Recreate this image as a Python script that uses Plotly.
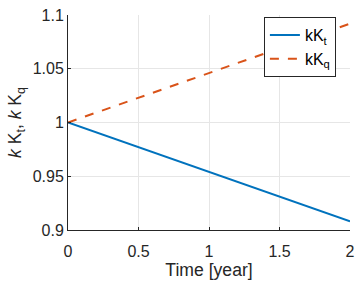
import plotly.graph_objects as go

time_years = [0, 0.5, 1, 1.5, 2]
kKt = [1.0, 0.977, 0.954, 0.931, 0.908]
kKq = [1.0, 1.023, 1.046, 1.069, 1.092]
x_ticks = [0, 0.5, 1, 1.5, 2]
x_tick_labels = ["0", "0.5", "1", "1.5", "2"]
y_ticks = [0.9, 0.95, 1.0, 1.05, 1.1]
y_tick_labels = ["0.9", "0.95", "1", "1.05", "1.1"]

fig = go.Figure()
fig.add_trace(go.Scatter(x=time_years, y=kKt, mode="lines", name="kK<sub>t</sub>",
                         line=dict(color="#0072BD", width=2)))
fig.add_trace(go.Scatter(x=time_years, y=kKq, mode="lines", name="kK<sub>q</sub>",
                         line=dict(color="#D95319", width=2, dash="dash")))

font = "Liberation Sans, Arial, sans-serif"
fig.update_layout(
    width=362, height=284,
    margin=dict(l=68, r=7, t=8, b=54),
    paper_bgcolor="white", plot_bgcolor="white",
    font=dict(family=font, size=16, color="#262626"),
    showlegend=True,
    legend=dict(x=0.95, y=0.99, xanchor="right", yanchor="top",
                bgcolor="white", bordercolor="#262626", borderwidth=1,
                font=dict(size=16, color="#000000"), tracegroupgap=0,
                itemwidth=30),
    xaxis=dict(range=[0, 2], tickvals=x_ticks, ticktext=x_tick_labels,
               showgrid=True, gridcolor="#E6E6E6", gridwidth=1,
               showline=True, linecolor="#262626", linewidth=1,
               ticks="inside", ticklen=3, tickcolor="#262626",
               zeroline=False, ticklabelstandoff=7,
               title=dict(text="Time [year]", standoff=3, font=dict(size=17.6))),
    yaxis=dict(range=[0.8999999, 1.1000001], tickvals=y_ticks, ticktext=y_tick_labels,
               showgrid=True, gridcolor="#E6E6E6", gridwidth=1,
               showline=True, linecolor="#262626", linewidth=1,
               ticks="inside", ticklen=3, tickcolor="#262626",
               zeroline=False, ticklabeloverflow="allow",
               title=dict(text="<i>k</i> K<sub>t</sub>, <i>k</i> K<sub>q</sub>",
                          standoff=6, font=dict(size=17.6))),
)

fig.write_html("out.html")
